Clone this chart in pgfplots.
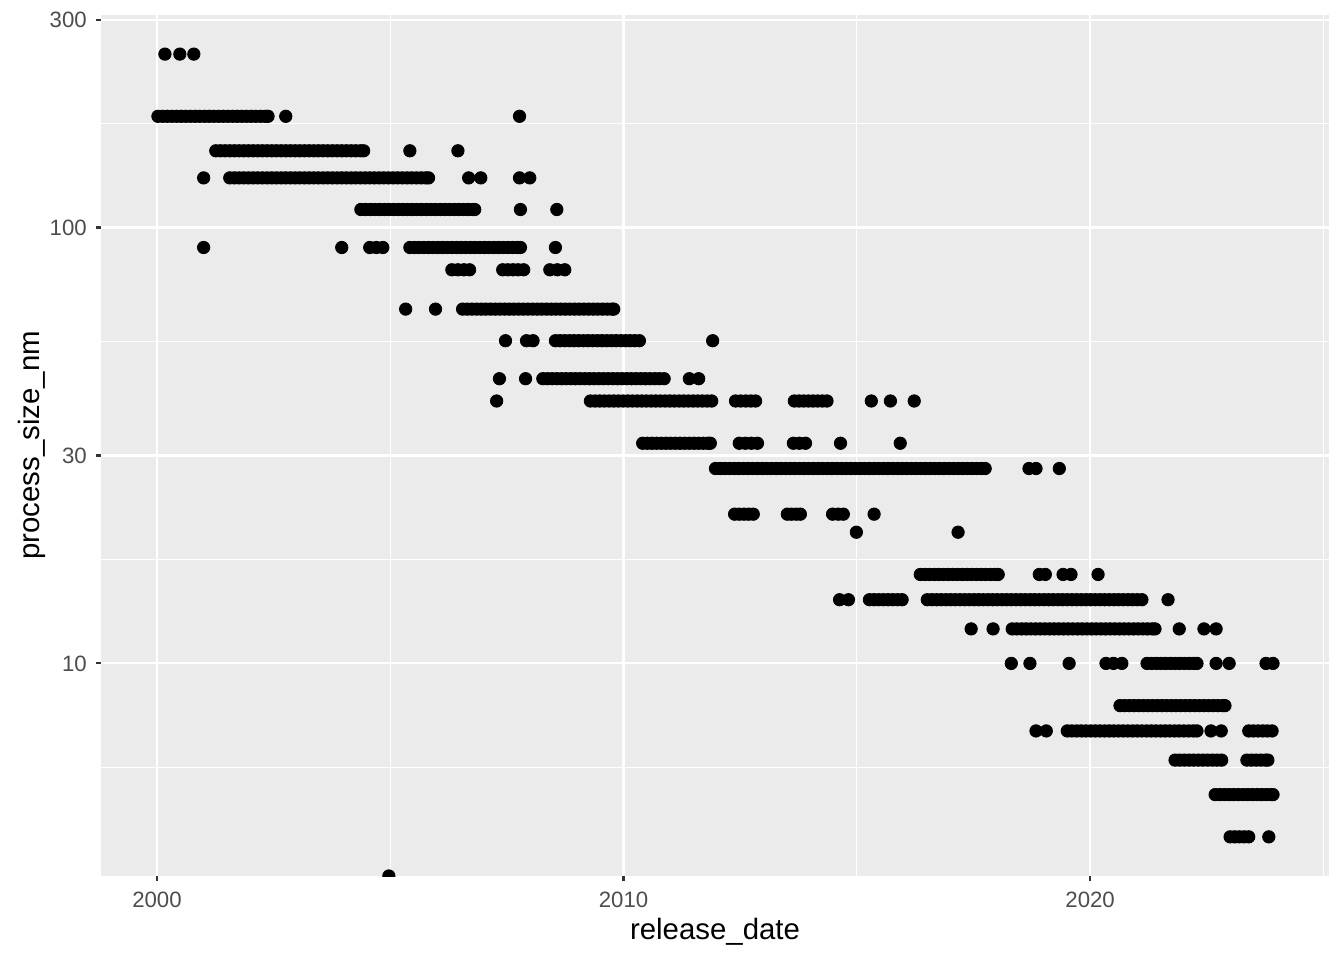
\documentclass[border=0pt]{standalone}
\usepackage{fontspec}
\setmainfont{Liberation Sans}
\usepackage{pgfplots}
\pgfplotsset{compat=1.18}
\definecolor{panelbg}{HTML}{EBEBEB}
\definecolor{tickcol}{HTML}{333333}
\definecolor{labcol}{HTML}{4D4D4D}
\pgfplotsset{pt/.style={only marks, mark=*, mark size=3.1pt, mark options={draw=none, fill=black}}}

\begin{document}
\begin{tikzpicture}
\useasboundingbox (0,0) rectangle (672pt,480pt);
\begin{axis}[
  at={(50.5pt,42pt)}, anchor=south west,
  scale only axis, width=614pt, height=430.5pt,
  xmin=1998.80, xmax=2025.12,
  ymode=log, ymin=3.253, ymax=307.4,
  axis background/.style={fill=panelbg},
  axis line style={draw=none},
  xtick={2000,2010,2020}, xticklabels={2000,2010,2020},
  minor xtick={2005,2015,2025},
  ytick={10,30,100,300}, yticklabels={10,30,100,300},
  minor ytick={5.7735,17.3205,54.7723,173.205},
  grid=both,
  major grid style={white, line width=1.07pt},
  minor grid style={white, line width=0.53pt},
  tick pos=left, tick align=outside,
  major tick length=2.75pt, minor tick length=0pt,
  major tick style={tickcol, line width=1.07pt},
  ticklabel style={font=\fontsize{11.1}{13}\selectfont, text=labcol, inner sep=0pt},
  xticklabel style={anchor=north, yshift=-5pt},
  yticklabel style={anchor=east, xshift=-4.2pt},
  xlabel={release\_date}, ylabel={process\_size\_nm},
  every axis x label/.style={at={(axis description cs:0.5,-0.0650)}, anchor=center, font=\fontsize{14.7}{17}\selectfont},
  every axis y label/.style={at={(axis description cs:-0.0562,0.5)}, rotate=90, anchor=center, font=\fontsize{14.7}{17}\selectfont},
  clip marker paths=true,
]
% 250 nm
\addplot[pt] coordinates {(2000.17,250) (2000.49,250) (2000.79,250)};
% 180 nm
\addplot[pt] coordinates {(2000.02,180) (2000.12,180) (2000.22,180) (2000.32,180) (2000.42,180) (2000.52,180) (2000.62,180) (2000.72,180) (2000.82,180) (2000.92,180) (2001.02,180) (2001.12,180) (2001.22,180) (2001.32,180) (2001.42,180) (2001.52,180) (2001.62,180) (2001.72,180) (2001.82,180) (2001.92,180) (2002.02,180) (2002.12,180) (2002.22,180) (2002.32,180) (2002.38,180) (2002.76,180) (2007.77,180)};
% 150 nm
\addplot[pt] coordinates {(2001.26,150) (2001.36,150) (2001.46,150) (2001.56,150) (2001.66,150) (2001.76,150) (2001.86,150) (2001.96,150) (2002.06,150) (2002.16,150) (2002.26,150) (2002.36,150) (2002.46,150) (2002.56,150) (2002.66,150) (2002.76,150) (2002.86,150) (2002.96,150) (2003.06,150) (2003.16,150) (2003.26,150) (2003.36,150) (2003.46,150) (2003.56,150) (2003.66,150) (2003.76,150) (2003.86,150) (2003.96,150) (2004.06,150) (2004.16,150) (2004.26,150) (2004.36,150) (2004.43,150) (2005.42,150) (2006.45,150)};
% 130 nm
\addplot[pt] coordinates {(2001.00,130) (2001.56,130) (2001.66,130) (2001.76,130) (2001.86,130) (2001.96,130) (2002.06,130) (2002.16,130) (2002.26,130) (2002.36,130) (2002.46,130) (2002.56,130) (2002.66,130) (2002.76,130) (2002.86,130) (2002.96,130) (2003.06,130) (2003.16,130) (2003.26,130) (2003.36,130) (2003.46,130) (2003.56,130) (2003.66,130) (2003.76,130) (2003.86,130) (2003.96,130) (2004.06,130) (2004.16,130) (2004.26,130) (2004.36,130) (2004.46,130) (2004.56,130) (2004.66,130) (2004.76,130) (2004.86,130) (2004.96,130) (2005.06,130) (2005.16,130) (2005.26,130) (2005.36,130) (2005.46,130) (2005.56,130) (2005.66,130) (2005.76,130) (2005.82,130) (2006.68,130) (2006.94,130) (2007.77,130) (2007.99,130)};
% 110 nm
\addplot[pt] coordinates {(2004.37,110) (2004.47,110) (2004.57,110) (2004.67,110) (2004.77,110) (2004.87,110) (2004.97,110) (2005.07,110) (2005.17,110) (2005.27,110) (2005.37,110) (2005.47,110) (2005.57,110) (2005.67,110) (2005.77,110) (2005.87,110) (2005.97,110) (2006.07,110) (2006.17,110) (2006.27,110) (2006.37,110) (2006.47,110) (2006.57,110) (2006.67,110) (2006.77,110) (2006.81,110) (2007.79,110) (2008.57,110)};
% 90 nm
\addplot[pt] coordinates {(2001.00,90) (2003.96,90) (2004.56,90) (2004.70,90) (2004.84,90) (2005.42,90) (2005.52,90) (2005.62,90) (2005.72,90) (2005.82,90) (2005.92,90) (2006.02,90) (2006.12,90) (2006.22,90) (2006.32,90) (2006.42,90) (2006.52,90) (2006.62,90) (2006.72,90) (2006.82,90) (2006.92,90) (2007.02,90) (2007.12,90) (2007.22,90) (2007.32,90) (2007.42,90) (2007.52,90) (2007.62,90) (2007.72,90) (2007.79,90) (2008.54,90)};
% 80 nm
\addplot[pt] coordinates {(2006.32,80) (2006.45,80) (2006.58,80) (2006.70,80) (2007.41,80) (2007.52,80) (2007.63,80) (2007.74,80) (2007.86,80) (2008.42,80) (2008.58,80) (2008.74,80)};
% 65 nm
\addplot[pt] coordinates {(2005.33,65) (2005.97,65) (2006.55,65) (2006.65,65) (2006.75,65) (2006.85,65) (2006.95,65) (2007.05,65) (2007.15,65) (2007.25,65) (2007.35,65) (2007.45,65) (2007.55,65) (2007.65,65) (2007.75,65) (2007.85,65) (2007.95,65) (2008.05,65) (2008.15,65) (2008.25,65) (2008.35,65) (2008.45,65) (2008.55,65) (2008.65,65) (2008.75,65) (2008.85,65) (2008.95,65) (2009.05,65) (2009.15,65) (2009.25,65) (2009.35,65) (2009.45,65) (2009.55,65) (2009.65,65) (2009.75,65) (2009.79,65)};
% 55 nm
\addplot[pt] coordinates {(2007.47,55) (2007.92,55) (2008.06,55) (2008.54,55) (2008.64,55) (2008.74,55) (2008.84,55) (2008.94,55) (2009.04,55) (2009.14,55) (2009.24,55) (2009.34,55) (2009.44,55) (2009.54,55) (2009.64,55) (2009.74,55) (2009.84,55) (2009.94,55) (2010.04,55) (2010.14,55) (2010.24,55) (2010.34,55) (2011.91,55)};
% 45 nm
\addplot[pt] coordinates {(2007.34,45) (2007.90,45) (2008.27,45) (2008.37,45) (2008.47,45) (2008.57,45) (2008.67,45) (2008.77,45) (2008.87,45) (2008.97,45) (2009.07,45) (2009.17,45) (2009.27,45) (2009.37,45) (2009.47,45) (2009.57,45) (2009.67,45) (2009.77,45) (2009.87,45) (2009.97,45) (2010.07,45) (2010.17,45) (2010.27,45) (2010.37,45) (2010.47,45) (2010.57,45) (2010.67,45) (2010.77,45) (2010.87,45) (2011.41,45) (2011.61,45)};
% 40 nm
\addplot[pt] coordinates {(2007.28,40) (2009.29,40) (2009.39,40) (2009.49,40) (2009.59,40) (2009.69,40) (2009.79,40) (2009.89,40) (2009.99,40) (2010.09,40) (2010.19,40) (2010.29,40) (2010.39,40) (2010.49,40) (2010.59,40) (2010.69,40) (2010.79,40) (2010.89,40) (2010.99,40) (2011.09,40) (2011.19,40) (2011.29,40) (2011.39,40) (2011.49,40) (2011.59,40) (2011.69,40) (2011.79,40) (2011.89,40) (2012.40,40) (2012.51,40) (2012.62,40) (2012.73,40) (2012.83,40) (2013.66,40) (2013.76,40) (2013.86,40) (2013.96,40) (2014.06,40) (2014.16,40) (2014.26,40) (2014.36,40) (2015.31,40) (2015.72,40) (2016.23,40)};
% 32 nm
\addplot[pt] coordinates {(2010.41,32) (2010.51,32) (2010.61,32) (2010.71,32) (2010.81,32) (2010.91,32) (2011.01,32) (2011.11,32) (2011.21,32) (2011.31,32) (2011.41,32) (2011.51,32) (2011.61,32) (2011.71,32) (2011.81,32) (2011.86,32) (2012.48,32) (2012.61,32) (2012.74,32) (2012.87,32) (2013.64,32) (2013.77,32) (2013.90,32) (2014.65,32) (2015.93,32)};
% 28 nm
\addplot[pt] coordinates {(2011.97,28) (2012.07,28) (2012.17,28) (2012.27,28) (2012.37,28) (2012.47,28) (2012.57,28) (2012.67,28) (2012.77,28) (2012.87,28) (2012.97,28) (2013.07,28) (2013.17,28) (2013.27,28) (2013.37,28) (2013.47,28) (2013.57,28) (2013.67,28) (2013.77,28) (2013.87,28) (2013.97,28) (2014.07,28) (2014.17,28) (2014.27,28) (2014.37,28) (2014.47,28) (2014.57,28) (2014.67,28) (2014.77,28) (2014.87,28) (2014.97,28) (2015.07,28) (2015.17,28) (2015.27,28) (2015.37,28) (2015.47,28) (2015.57,28) (2015.67,28) (2015.77,28) (2015.87,28) (2015.97,28) (2016.07,28) (2016.17,28) (2016.27,28) (2016.37,28) (2016.47,28) (2016.57,28) (2016.67,28) (2016.77,28) (2016.87,28) (2016.97,28) (2017.07,28) (2017.17,28) (2017.27,28) (2017.37,28) (2017.47,28) (2017.57,28) (2017.67,28) (2017.75,28) (2018.69,28) (2018.84,28) (2019.34,28)};
% 22 nm
\addplot[pt] coordinates {(2012.38,22) (2012.48,22) (2012.58,22) (2012.68,22) (2012.78,22) (2013.51,22) (2013.60,22) (2013.70,22) (2013.79,22) (2014.48,22) (2014.60,22) (2014.71,22) (2015.37,22)};
% 20 nm
\addplot[pt] coordinates {(2014.99,20) (2017.17,20)};
% 16 nm
\addplot[pt] coordinates {(2016.36,16) (2016.46,16) (2016.56,16) (2016.66,16) (2016.76,16) (2016.86,16) (2016.96,16) (2017.06,16) (2017.16,16) (2017.26,16) (2017.36,16) (2017.46,16) (2017.56,16) (2017.66,16) (2017.76,16) (2017.86,16) (2017.96,16) (2018.03,16) (2018.91,16) (2019.04,16) (2019.42,16) (2019.59,16) (2020.17,16)};
% 14 nm
\addplot[pt] coordinates {(2014.63,14) (2014.82,14) (2015.27,14) (2015.37,14) (2015.47,14) (2015.57,14) (2015.67,14) (2015.77,14) (2015.87,14) (2015.97,14) (2016.51,14) (2016.61,14) (2016.71,14) (2016.81,14) (2016.91,14) (2017.01,14) (2017.11,14) (2017.21,14) (2017.31,14) (2017.41,14) (2017.51,14) (2017.61,14) (2017.71,14) (2017.81,14) (2017.91,14) (2018.01,14) (2018.11,14) (2018.21,14) (2018.31,14) (2018.41,14) (2018.51,14) (2018.61,14) (2018.71,14) (2018.81,14) (2018.91,14) (2019.01,14) (2019.11,14) (2019.21,14) (2019.31,14) (2019.41,14) (2019.51,14) (2019.61,14) (2019.71,14) (2019.81,14) (2019.91,14) (2020.01,14) (2020.11,14) (2020.21,14) (2020.31,14) (2020.41,14) (2020.51,14) (2020.61,14) (2020.71,14) (2020.81,14) (2020.91,14) (2021.01,14) (2021.11,14) (2021.67,14)};
% 12 nm
\addplot[pt] coordinates {(2017.45,12) (2017.92,12) (2018.33,12) (2018.43,12) (2018.53,12) (2018.63,12) (2018.73,12) (2018.83,12) (2018.93,12) (2019.03,12) (2019.13,12) (2019.23,12) (2019.33,12) (2019.43,12) (2019.53,12) (2019.63,12) (2019.73,12) (2019.83,12) (2019.93,12) (2020.03,12) (2020.13,12) (2020.23,12) (2020.33,12) (2020.43,12) (2020.53,12) (2020.63,12) (2020.73,12) (2020.83,12) (2020.93,12) (2021.03,12) (2021.13,12) (2021.23,12) (2021.33,12) (2021.39,12) (2021.91,12) (2022.44,12) (2022.70,12)};
% 10 nm
\addplot[pt] coordinates {(2018.31,10) (2018.71,10) (2019.55,10) (2020.34,10) (2020.50,10) (2020.68,10) (2021.22,10) (2021.32,10) (2021.42,10) (2021.52,10) (2021.62,10) (2021.72,10) (2021.82,10) (2021.92,10) (2022.02,10) (2022.12,10) (2022.22,10) (2022.29,10) (2022.70,10) (2022.98,10) (2023.77,10) (2023.92,10)};
% 8 nm
\addplot[pt] coordinates {(2020.64,8) (2020.74,8) (2020.84,8) (2020.94,8) (2021.04,8) (2021.14,8) (2021.24,8) (2021.34,8) (2021.44,8) (2021.54,8) (2021.64,8) (2021.74,8) (2021.84,8) (2021.94,8) (2022.04,8) (2022.14,8) (2022.24,8) (2022.34,8) (2022.44,8) (2022.54,8) (2022.64,8) (2022.74,8) (2022.84,8) (2022.89,8)};
% 7 nm
\addplot[pt] coordinates {(2018.84,7) (2019.06,7) (2019.51,7) (2019.61,7) (2019.71,7) (2019.81,7) (2019.91,7) (2020.01,7) (2020.11,7) (2020.21,7) (2020.31,7) (2020.41,7) (2020.51,7) (2020.61,7) (2020.71,7) (2020.81,7) (2020.91,7) (2021.01,7) (2021.11,7) (2021.21,7) (2021.31,7) (2021.41,7) (2021.51,7) (2021.61,7) (2021.71,7) (2021.81,7) (2021.91,7) (2022.01,7) (2022.11,7) (2022.21,7) (2022.29,7) (2022.59,7) (2022.81,7) (2023.40,7) (2023.50,7) (2023.60,7) (2023.70,7) (2023.80,7) (2023.90,7)};
% 6 nm
\addplot[pt] coordinates {(2021.82,6) (2021.92,6) (2022.02,6) (2022.12,6) (2022.22,6) (2022.32,6) (2022.42,6) (2022.52,6) (2022.62,6) (2022.72,6) (2022.82,6) (2023.36,6) (2023.46,6) (2023.56,6) (2023.66,6) (2023.76,6) (2023.81,6)};
% 5 nm
\addplot[pt] coordinates {(2022.68,5) (2022.78,5) (2022.88,5) (2022.98,5) (2023.08,5) (2023.18,5) (2023.28,5) (2023.38,5) (2023.48,5) (2023.58,5) (2023.68,5) (2023.78,5) (2023.88,5) (2023.92,5)};
% 4 nm
\addplot[pt] coordinates {(2023.00,4) (2023.10,4) (2023.20,4) (2023.30,4) (2023.40,4) (2023.83,4)};
% zero size (log gives -Inf), drawn on the lower panel edge
\addplot[pt] coordinates {(2004.97,3.253)};
\end{axis}
\end{tikzpicture}
\end{document}
